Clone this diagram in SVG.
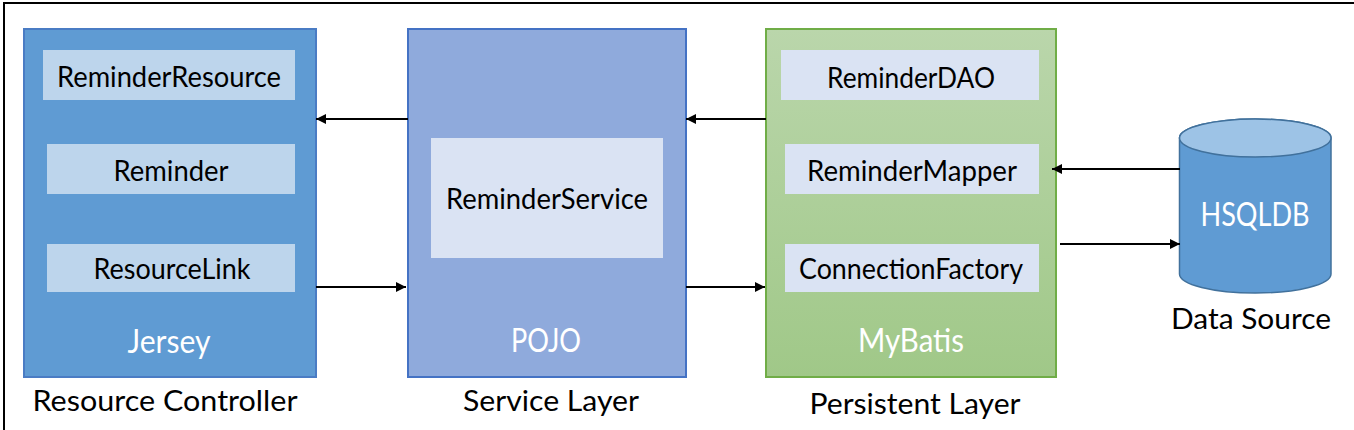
<svg xmlns="http://www.w3.org/2000/svg" width="1354" height="430" viewBox="0 0 1354 430">
<style>
text{font-family:Lato,"Open Sans","Liberation Sans",sans-serif;text-anchor:middle;font-size:29px;fill:#000}
.w{fill:#fff}
.big{font-size:32px}
.ln{stroke:#000;stroke-width:2;fill:none;marker-end:url(#a)}
.in1{fill:#bdd5ec}
.in2{fill:#dae3f3}
</style>
<defs>
<marker id="a" markerUnits="userSpaceOnUse" markerWidth="11" markerHeight="12" refX="10" refY="6" orient="auto"><path d="M0 1L10 6L0 11Z" fill="#000"/></marker>
<linearGradient id="g" x1="0" y1="0" x2="0" y2="1"><stop offset="0" stop-color="#bad6ab"/><stop offset="1" stop-color="#a0c888"/></linearGradient>
</defs>
<rect width="1354" height="430" fill="#fff"/>
<path d="M4 430V3H1354" fill="none" stroke="#000" stroke-width="2"/>
<g id="resource-controller">
<rect x="24" y="29" width="292" height="348" fill="#5f9bd3" stroke="#4a7cc4" stroke-width="2"/>
<rect class="in1" x="43" y="50" width="252" height="50"/>
<text x="169" y="87" textLength="224" lengthAdjust="spacingAndGlyphs">ReminderResource</text>
<rect class="in1" x="47" y="144" width="248" height="50"/>
<text x="171" y="181" textLength="115" lengthAdjust="spacingAndGlyphs">Reminder</text>
<rect class="in1" x="47" y="244" width="248" height="48"/>
<text x="172" y="279" textLength="157" lengthAdjust="spacingAndGlyphs">ResourceLink</text>
<text class="w big" x="169" y="353" textLength="83" lengthAdjust="spacingAndGlyphs">Jersey</text>
<text x="165" y="411" textLength="265" lengthAdjust="spacingAndGlyphs">Resource Controller</text>
</g>
<g id="service-layer">
<rect x="408" y="29" width="278" height="348" fill="#8faadc" stroke="#4472c4" stroke-width="2"/>
<rect class="in2" x="431" y="138" width="232" height="120"/>
<text x="547" y="209" textLength="202" lengthAdjust="spacingAndGlyphs">ReminderService</text>
<text class="w big" x="546" y="352" textLength="70" lengthAdjust="spacingAndGlyphs">POJO</text>
<text x="551" y="411" textLength="176" lengthAdjust="spacingAndGlyphs">Service Layer</text>
</g>
<g id="persistent-layer">
<rect x="766" y="29" width="290" height="348" fill="url(#g)" stroke="#70ad47" stroke-width="2"/>
<rect class="in2" x="781" y="50" width="258" height="50"/>
<text x="911" y="88" textLength="168" lengthAdjust="spacingAndGlyphs">ReminderDAO</text>
<rect class="in2" x="785" y="144" width="254" height="50"/>
<text x="912" y="181" textLength="210" lengthAdjust="spacingAndGlyphs">ReminderMapper</text>
<rect class="in2" x="785" y="244" width="254" height="48"/>
<text x="911" y="279" textLength="224" lengthAdjust="spacingAndGlyphs">ConnectionFactory</text>
<text class="w big" x="911" y="352" textLength="106" lengthAdjust="spacingAndGlyphs">MyBatis</text>
<text x="915" y="414" textLength="211" lengthAdjust="spacingAndGlyphs">Persistent Layer</text>
</g>
<g id="data-source">
<path d="M1179.500 138V274A75.750 19 0 0 0 1331 274V138A75.750 19 0 0 0 1179.500 138Z" fill="#5f9bd3" stroke="#41719c" stroke-width="1.500"/>
<ellipse cx="1255.250" cy="138" rx="75.750" ry="19" fill="#9dc3e6" stroke="#41719c" stroke-width="1.500"/>
<text class="w big" x="1255" y="226" textLength="109" lengthAdjust="spacingAndGlyphs">HSQLDB</text>
<text x="1251" y="329" textLength="160" lengthAdjust="spacingAndGlyphs">Data Source</text>
</g>
<g id="connectors">
<path class="ln" d="M408 119H316"/>
<path class="ln" d="M766 119H686"/>
<path class="ln" d="M1180 169H1052"/>
<path class="ln" d="M1060 244H1180"/>
<path class="ln" d="M316 287H406"/>
<path class="ln" d="M686 287H765"/>
</g>
</svg>
